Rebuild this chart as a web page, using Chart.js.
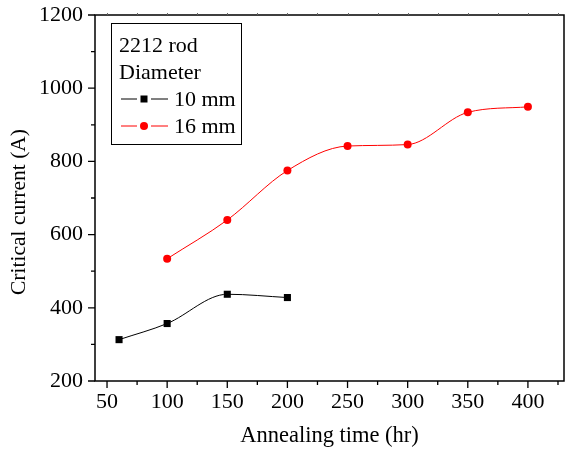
<!DOCTYPE html>
<html>
<head>
<meta charset="utf-8">
<script src="https://cdn.jsdelivr.net/npm/chart.js@4/dist/chart.umd.min.js"></script>
<style>
  html, body { margin: 0; padding: 0; background: #fff; }
  #grafico { display: block; }
</style>
</head>
<body>
<canvas id="grafico" width="569" height="454"></canvas>
<script>
// --- dados ---
const horas10 = [60, 100, 150, 200];
const corrente10 = [313, 357, 437, 428];
const horas16 = [100, 150, 200, 250, 300, 350, 400];
const corrente16 = [534, 640, 775, 842, 846, 934, 949];
const xTicks = [50, 100, 150, 200, 250, 300, 350, 400];
const xMinor = [75, 125, 175, 225, 275, 325, 375, 425];
const yTicks = [200, 400, 600, 800, 1000, 1200];
const yMinor = [300, 500, 700, 900, 1100];
const legendaTitulo = ['2212 rod', 'Diameter'];
const rotulos = ['10 mm', '16 mm'];

const FONTE = '"Liberation Serif", "Times New Roman", serif';

const toPts = (xs, ys) => xs.map((x, i) => ({ x: x, y: ys[i] }));

// moldura, ticks, legenda e título do eixo y
const molduraPlugin = {
    id: 'moldura',
    afterDraw(chart) {
        const { ctx, chartArea: a, scales } = chart;
        const sx = scales.x, sy = scales.y;
        ctx.save();
        ctx.strokeStyle = '#000';
        ctx.lineWidth = 1.5;
        ctx.strokeRect(a.left, a.top, a.right - a.left, a.bottom - a.top);

        ctx.lineWidth = 1.3;
        ctx.beginPath();
        xTicks.forEach(v => {
            const px = sx.getPixelForValue(v);
            ctx.moveTo(px, a.bottom); ctx.lineTo(px, a.bottom + 7);
        });
        xMinor.forEach(v => {
            const px = sx.getPixelForValue(v);
            ctx.moveTo(px, a.bottom); ctx.lineTo(px, a.bottom + 4);
        });
        yTicks.forEach(v => {
            const py = sy.getPixelForValue(v);
            ctx.moveTo(a.left, py); ctx.lineTo(a.left - 7, py);
        });
        yMinor.forEach(v => {
            const py = sy.getPixelForValue(v);
            ctx.moveTo(a.left, py); ctx.lineTo(a.left - 4, py);
        });
        ctx.stroke();

        // ticks pequenos no topo
        ctx.strokeStyle = '#666';
        ctx.lineWidth = 1;
        ctx.beginPath();
        xTicks.concat(xMinor).forEach(v => {
            const px = Math.round(sx.getPixelForValue(v)) + 0.5;
            ctx.moveTo(px, a.top); ctx.lineTo(px, a.top - 2);
        });
        ctx.stroke();

        // legenda
        const lx = a.left + 16, ly = a.top + 8;
        ctx.strokeStyle = '#000';
        ctx.lineWidth = 1;
        ctx.strokeRect(lx + 0.5, ly + 0.5, 130, 121);
        ctx.fillStyle = '#000';
        ctx.font = '22px ' + FONTE;
        ctx.textBaseline = 'alphabetic';
        ctx.textAlign = 'left';
        ctx.fillText(legendaTitulo[0], lx + 8, ly + 29);
        ctx.fillText(legendaTitulo[1], lx + 8, ly + 56);

        const cores = ['#000', '#ff0000'];
        [0, 1].forEach(i => {
            const yy = ly + 76 + i * 27;
            const cx = lx + 33;
            ctx.strokeStyle = cores[i];
            ctx.beginPath();
            ctx.moveTo(lx + 10, yy); ctx.lineTo(cx - 7, yy);
            ctx.moveTo(cx + 7, yy); ctx.lineTo(lx + 57, yy);
            ctx.stroke();
            ctx.fillStyle = cores[i];
            if (i === 0) {
                ctx.fillRect(cx - 3.5, yy - 3.5, 7, 7);
            } else {
                ctx.beginPath();
                ctx.arc(cx, yy, 4, 0, Math.PI * 2);
                ctx.fill();
            }
            ctx.fillStyle = '#000';
            ctx.textBaseline = 'middle';
            ctx.fillText(rotulos[i], lx + 63, yy + 1);
        });

        // título do eixo y
        ctx.save();
        ctx.translate(19, 212);
        ctx.rotate(-Math.PI / 2);
        ctx.textAlign = 'center';
        ctx.textBaseline = 'middle';
        ctx.font = '21.5px ' + FONTE;
        ctx.fillStyle = '#000';
        ctx.fillText('Critical current (A)', 0, 0);
        ctx.restore();

        ctx.restore();
    }
};

new Chart(document.getElementById('grafico'), {
    type: 'scatter',
    data: {
        datasets: [
            {
                label: rotulos[0],
                data: toPts(horas10, corrente10),
                showLine: true,
                cubicInterpolationMode: 'monotone',
                borderColor: '#000',
                borderWidth: 1,
                backgroundColor: '#000',
                pointStyle: 'rect',
                pointRadius: 5,
                pointBorderWidth: 0
            },
            {
                label: rotulos[1],
                data: toPts(horas16, corrente16),
                showLine: true,
                cubicInterpolationMode: 'monotone',
                borderColor: '#ff0000',
                borderWidth: 1,
                backgroundColor: '#ff0000',
                pointStyle: 'circle',
                pointRadius: 4,
                pointBorderWidth: 0
            }
        ]
    },
    options: {
        responsive: false,
        animation: false,
        devicePixelRatio: 1,
        layout: { padding: { top: 15, right: 2, left: 0, bottom: 0 } },
        plugins: { legend: { display: false }, tooltip: { enabled: false } },
        scales: {
            x: {
                type: 'linear',
                min: 40,
                max: 430,
                afterBuildTicks: (s) => { s.ticks = xTicks.map(v => ({ value: v })); },
                afterFit: (s) => { s.height = 73; s.paddingLeft = 0; s.paddingRight = 0; },
                grid: { display: false, drawTicks: false },
                border: { display: false },
                ticks: { color: '#000', padding: 8, maxRotation: 0, font: { family: FONTE, size: 22 }, callback: (v) => String(v) },
                title: {
                    display: true,
                    text: 'Annealing time (hr)',
                    color: '#000',
                    padding: { top: 0, bottom: 4 },
                    font: { family: FONTE, size: 22.5 }
                }
            },
            y: {
                min: 200,
                max: 1200,
                afterBuildTicks: (s) => { s.ticks = yTicks.map(v => ({ value: v })); },
                afterFit: (s) => { s.width = 95; s.paddingTop = 0; s.paddingBottom = 0; },
                grid: { display: false, drawTicks: false },
                border: { display: false },
                ticks: { color: '#000', padding: 12, font: { family: FONTE, size: 22 }, callback: (v) => String(v) }
            }
        }
    },
    plugins: [molduraPlugin]
});
</script>
</body>
</html>
